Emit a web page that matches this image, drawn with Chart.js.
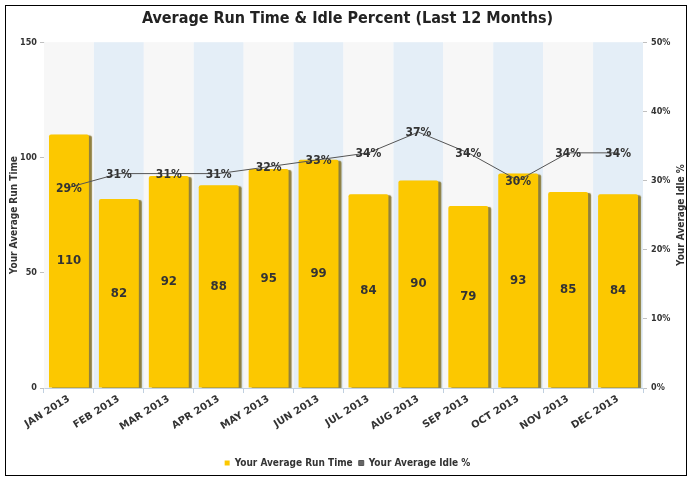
<!DOCTYPE html>
<html>
<head>
<meta charset="utf-8">
<script src="https://cdn.jsdelivr.net/npm/chart.js@4.4.0/dist/chart.umd.min.js"></script>
<style>
  html, body { margin: 0; padding: 0; background: #fff; }
  #wrap { position: relative; width: 692px; height: 478px; }
  #frame { position: absolute; left: 5px; top: 5px; width: 682px; height: 471px; border: 1px solid #000; box-sizing: border-box; pointer-events: none; }
  canvas { position: absolute; left: 0; top: 0; }
</style>
</head>
<body>
<div id="wrap">
  <canvas id="runChart" width="692" height="478"></canvas>
  <div id="frame"></div>
</div>
<script>
const months = ['JAN 2013', 'FEB 2013', 'MAR 2013', 'APR 2013', 'MAY 2013', 'JUN 2013',
                'JUL 2013', 'AUG 2013', 'SEP 2013', 'OCT 2013', 'NOV 2013', 'DEC 2013'];
const runTime = [110, 82, 92, 88, 95, 99, 84, 90, 79, 93, 85, 84];
const idlePct = [29, 31, 31, 31, 32, 33, 34, 37, 34, 30, 34, 34];
const runTicks = [0, 50, 100, 150];
const idleTicks = [0, 10, 20, 30, 40, 50];

const FONT = "'DejaVu Sans Condensed', 'DejaVu Sans', sans-serif";
const WIDE = "'DejaVu Sans', sans-serif";
const INK = '#333';

// alternating column bands behind the bars
const bandPlugin = {
    id: 'bands',
    beforeDatasetsDraw(chart) {
        const { ctx, chartArea, scales: { x } } = chart;
        const w = (chartArea.right - chartArea.left) / months.length;
        ctx.save();
        months.forEach((m, i) => {
            const cx = x.getPixelForValue(i);
            ctx.fillStyle = i % 2 ? '#e4eef7' : '#f7f7f7';
            ctx.fillRect(cx - w / 2, chartArea.top, w, chartArea.bottom - chartArea.top);
        });
        ctx.restore();
    }
};

// shadow on the bars
const shadowPlugin = {
    id: 'barShadow',
    beforeDatasetDraw(chart, args) {
        if (args.meta.type !== 'bar') return;
        const ctx = chart.ctx;
        ctx.save();
        ctx.shadowColor = 'rgba(110, 88, 0, 0.75)';
        ctx.shadowOffsetX = 3;
        ctx.shadowOffsetY = 1;
        ctx.shadowBlur = 1;
    },
    afterDatasetDraw(chart, args) {
        if (args.meta.type !== 'bar') return;
        chart.ctx.restore();
    }
};

// value labels + right axis title
const labelPlugin = {
    id: 'valueLabels',
    afterDatasetsDraw(chart) {
        const ctx = chart.ctx;
        ctx.save();
        ctx.fillStyle = INK;
        ctx.textAlign = 'center';
        ctx.textBaseline = 'middle';
        const barMeta = chart.getDatasetMeta(0);
        ctx.font = 'bold 13px ' + FONT;
        barMeta.data.forEach((el, i) => {
            ctx.fillText(String(runTime[i]), el.x, (el.y + el.base) / 2);
        });
        const lineMeta = chart.getDatasetMeta(1);
        ctx.font = 'bold 12px ' + FONT;
        lineMeta.data.forEach((el, i) => {
            ctx.fillText(idlePct[i] + '%', el.x, el.y + 1);
        });
        // right axis title, reading bottom to top
        const ca = chart.chartArea;
        ctx.font = 'bold 10px ' + FONT;
        ctx.translate(681, (ca.top + ca.bottom) / 2);
        ctx.rotate(-Math.PI / 2);
        ctx.fillText('Your Average Idle %', 0, 0);
        ctx.restore();
    }
};

document.addEventListener('DOMContentLoaded', () => {
    new Chart(document.getElementById('runChart'), {
        type: 'bar',
        data: {
            labels: months,
            datasets: [
                {
                    type: 'bar',
                    label: 'Your Average Run Time',
                    data: runTime,
                    yAxisID: 'y',
                    backgroundColor: '#fcc800',
                    borderWidth: 0,
                    borderRadius: 2,
                    barPercentage: 0.8,
                    categoryPercentage: 1.0,
                    order: 1
                },
                {
                    type: 'line',
                    label: 'Your Average Idle %',
                    data: idlePct,
                    yAxisID: 'y1',
                    borderColor: '#555',
                    backgroundColor: '#666',
                    borderWidth: 1,
                    pointRadius: 0,
                    tension: 0,
                    order: 0
                }
            ]
        },
        options: {
            responsive: false,
            animation: false,
            layout: { padding: { left: 8, right: 5, top: 0, bottom: 0 } },
            plugins: {
                title: {
                    display: true,
                    text: 'Average Run Time & Idle Percent (Last 12 Months)',
                    color: '#222',
                    font: { family: FONT, size: 16, weight: 'bold' },
                    padding: { top: 9, bottom: 14 }
                },
                legend: {
                    position: 'bottom',
                    labels: {
                        color: INK,
                        font: { family: FONT, size: 10, weight: 'bold' },
                        boxWidth: 5,
                        boxHeight: 5,
                        padding: 6,
                        sort: (a, b) => a.datasetIndex - b.datasetIndex
                    }
                },
                tooltip: { enabled: false }
            },
            scales: {
                x: {
                    grid: { display: true, drawOnChartArea: false, tickLength: 5, color: '#c0d0e0', offset: true },
                    border: { color: '#c0d0e0' },
                    ticks: {
                        color: INK,
                        font: { family: WIDE, size: 10, weight: 'bold' },
                        minRotation: 32,
                        maxRotation: 32,
                        padding: 0
                    },
                    afterFit: s => { s.height = 64; }
                },
                y: {
                    position: 'left',
                    min: 0,
                    max: 150,
                    afterBuildTicks: s => { s.ticks = runTicks.map(v => ({ value: v })); },
                    grid: { display: true, drawOnChartArea: false, tickLength: 4, color: '#c0c0c0' },
                    border: { color: '#d6e3ef' },
                    ticks: { color: INK, font: { family: FONT, size: 9, weight: 'bold' }, padding: 3 },
                    title: {
                        display: true,
                        text: 'Your Average Run Time',
                        color: INK,
                        font: { family: FONT, size: 10, weight: 'bold' },
                        padding: 0
                    },
                    afterFit: s => { s.width = 36; }
                },
                y1: {
                    position: 'right',
                    min: 0,
                    max: 50,
                    afterBuildTicks: s => { s.ticks = idleTicks.map(v => ({ value: v })); },
                    grid: { display: true, drawOnChartArea: false, tickLength: 4, color: '#c0c0c0' },
                    border: { display: false },
                    ticks: { color: INK, font: { family: FONT, size: 9, weight: 'bold' }, padding: 4, callback: v => v + '%' },
                    afterFit: s => { s.width = 44; }
                }
            }
        },
        plugins: [bandPlugin, shadowPlugin, labelPlugin]
    });
});
</script>
</body>
</html>
